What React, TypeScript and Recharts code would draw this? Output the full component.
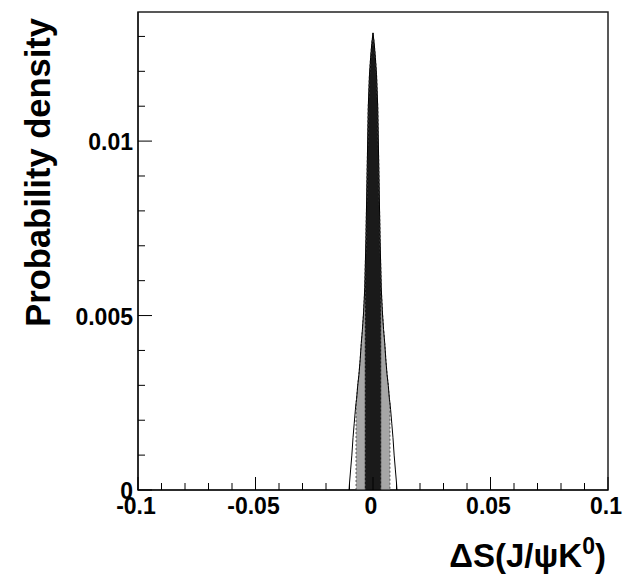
import { ComposedChart, Area, Line, XAxis, YAxis, ReferenceArea, Label } from 'recharts'

// Posterior for Delta S, sampled along the x axis
const deltaS = [
  -0.0102, -0.01, -0.0095, -0.009, -0.0085, -0.008, -0.0075, -0.0072, -0.007, -0.0065, -0.006,
  -0.0055, -0.005, -0.0045, -0.004, -0.0035, -0.003, -0.0025, -0.002, -0.0015, -0.001, -0.0005,
  0,
  0.0005, 0.001, 0.0015, 0.002, 0.0025, 0.003, 0.0035, 0.004, 0.0045, 0.005, 0.0055,
  0.006, 0.0065, 0.007, 0.0072, 0.0075, 0.008, 0.0085, 0.009, 0.0095, 0.01, 0.0102,
]
const density = [
  0, 0.0002, 0.0006, 0.001, 0.0015, 0.0019, 0.0023, 0.0025, 0.0026, 0.003, 0.0033,
  0.0037, 0.0042, 0.0046, 0.0051, 0.0058, 0.0072, 0.0091, 0.011, 0.0119, 0.0124, 0.0128,
  0.0131,
  0.0128, 0.0124, 0.0119, 0.011, 0.0091, 0.0072, 0.0058, 0.0051, 0.0046, 0.0042, 0.0037,
  0.0033, 0.003, 0.0026, 0.0025, 0.0023, 0.0019, 0.0015, 0.001, 0.0006, 0.0002, 0,
]

// probability intervals
const band68 = [-0.0035, 0.0035]
const band95 = [-0.0072, 0.0072]

const xTicks = [-0.1, -0.09, -0.08, -0.07, -0.06, -0.05, -0.04, -0.03, -0.02, -0.01, 0, 0.01, 0.02, 0.03, 0.04, 0.05, 0.06, 0.07, 0.08, 0.09, 0.1]
const xMajor = [-0.1, -0.05, 0, 0.05, 0.1]
const yTicks = [0, 0.001, 0.002, 0.003, 0.004, 0.005, 0.006, 0.007, 0.008, 0.009, 0.01, 0.011, 0.012, 0.013]
const yMajor = [0, 0.005, 0.01]
const yMax = 0.0137

const inBand = (x: number, b: number[]) => x >= b[0] - 1e-9 && x <= b[1] + 1e-9
const isMajor = (v: number, list: number[]) => list.some((m) => Math.abs(m - v) < 1e-9)

// rows for the curve plus zero-height rows so the band fills get vertical edges
const rows: any[] = []
deltaS.forEach((x, i) => {
  const v = density[i]
  if (Math.abs(x - band95[0]) < 1e-9) rows.push({ x, gray: 0 })
  if (Math.abs(x - band68[0]) < 1e-9) rows.push({ x, dark: 0 })
  rows.push({
    x,
    outer: v,
    gray: inBand(x, band95) ? v : undefined,
    dark: inBand(x, band68) ? v : undefined,
  })
  if (Math.abs(x - band68[1]) < 1e-9) rows.push({ x, dark: 0 })
  if (Math.abs(x - band95[1]) < 1e-9) rows.push({ x, gray: 0 })
})

const font = '"Liberation Sans", Arial, Helvetica, sans-serif'

function XTick(props: any) {
  const { x, y, payload } = props
  const major = isMajor(payload.value, xMajor)
  return (
    <g>
      <line x1={x} x2={x} y1={y} y2={y - (major ? 13 : 7)} stroke="#000" strokeWidth={1} />
      {major && (
        <text x={x - 2} y={y + 24} textAnchor="middle" fontFamily={font} fontWeight="bold" fontSize={23} fill="#000">
          {String(payload.value)}
        </text>
      )}
    </g>
  )
}

function YTick(props: any) {
  const { x, y, payload } = props
  const major = isMajor(payload.value, yMajor)
  return (
    <g>
      <line x1={x} x2={x + (major ? 14 : 7)} y1={y} y2={y} stroke="#000" strokeWidth={1} />
      {major && (
        <text x={x - 5} y={y + 9} textAnchor="end" fontFamily={font} fontWeight="bold" fontSize={23} fill="#000">
          {String(payload.value)}
        </text>
      )}
    </g>
  )
}

function XTitle(props: any) {
  const { viewBox } = props
  return (
    <text
      x={viewBox.x + viewBox.width - 2}
      y={viewBox.y + 77}
      textAnchor="end"
      fontFamily={font}
      fontWeight="bold"
      fontSize={33}
      fill="#000"
    >
      ΔS(J/ψK
      <tspan dy={-13} fontSize={23}>0</tspan>
      <tspan dy={13}>)</tspan>
    </text>
  )
}

function YTitle() {
  return (
    <text
      x={50}
      y={18}
      transform="rotate(-90 50 18)"
      textAnchor="end"
      fontFamily={font}
      fontWeight="bold"
      fontSize={34.5}
      fill="#000"
    >
      Probability density
    </text>
  )
}

export default function App() {
  return (
    <div style={{ position: 'absolute', left: 0, top: 0, background: '#fff' }}>
      <ComposedChart width={632} height={574} data={rows} margin={{ top: 12, right: 24, bottom: 0, left: 0 }}>
        <XAxis
          dataKey="x"
          type="number"
          domain={[-0.1, 0.1]}
          ticks={xTicks}
          interval={0}
          allowDataOverflow
          height={84}
          tickSize={0}
          tickMargin={0}
          tickLine={false}
          tick={<XTick />}
          axisLine={{ stroke: '#000', strokeWidth: 1 }}
        >
          <Label content={<XTitle />} />
        </XAxis>
        <YAxis
          type="number"
          domain={[0, yMax]}
          ticks={yTicks}
          interval={0}
          allowDataOverflow
          width={138}
          tickSize={0}
          tickMargin={0}
          tickLine={false}
          tick={<YTick />}
          axisLine={{ stroke: '#000', strokeWidth: 1 }}
        />
        <ReferenceArea x1={-0.1} x2={0.1} y1={0} y2={yMax} fill="none" stroke="#222" strokeWidth={1.5} ifOverflow="visible" />
        <Area
          dataKey="gray"
          type="linear"
          baseValue={0}
          connectNulls
          fill="#a6a6a6"
          fillOpacity={1}
          stroke="#555"
          strokeWidth={1}
          strokeDasharray="2 2"
          dot={false}
          activeDot={false}
          isAnimationActive={false}
        />
        <Area
          dataKey="dark"
          type="linear"
          baseValue={0}
          connectNulls
          fill="#1a1a1a"
          fillOpacity={1}
          stroke="#999"
          strokeWidth={1}
          strokeDasharray="2 2"
          dot={false}
          activeDot={false}
          isAnimationActive={false}
        />
        <Line
          dataKey="outer"
          type="linear"
          connectNulls
          stroke="#000"
          strokeWidth={1}
          dot={false}
          activeDot={false}
          isAnimationActive={false}
        />
        <YTitle />
      </ComposedChart>
    </div>
  )
}
